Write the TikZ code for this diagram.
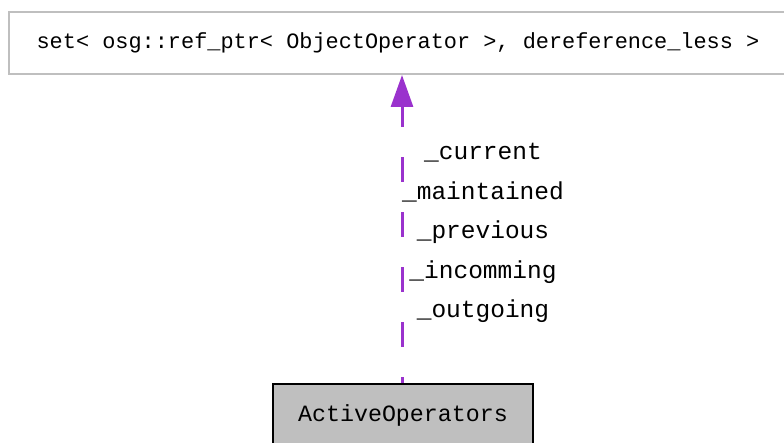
\documentclass[tikz,border=0pt]{standalone}
\usepackage{fontspec}
\setmonofont{Liberation Mono}
\usetikzlibrary{arrows.meta}
\definecolor{edgepurple}{HTML}{9A32CD}
\definecolor{boxgray}{HTML}{BFBFBF}

\begin{document}
\begin{tikzpicture}[
  x=1pt, y=-1pt,
  cls/.style   = {draw=boxgray, line width=2pt, minimum width=778pt, minimum height=62pt,
                  inner sep=0pt, font=\ttfamily\fontsize{21.9}{24}\selectfont},
  cur/.style   = {draw=black, fill=boxgray, line width=2pt, minimum width=260pt, minimum height=62pt,
                  inner sep=0pt, font=\ttfamily\fontsize{23.3}{26}\selectfont},
  assoc/.style = {-{Triangle[length=32pt, width=22pt]}, edgepurple, line width=3pt,
                  dash pattern=on 25pt off 30pt, dash phase=19pt},
  lbl/.style   = {align=center, inner sep=0pt, font=\ttfamily\fontsize{24.5}{39.5}\selectfont}
]
\clip (0,0) rectangle (784,443);

% ---------- classes ----------
\node[cls] (refset) at (398,43) {set< osg::ref\_ptr< ObjectOperator >, dereference\_less >};
\node[cur] (active) at (403,415) {ActiveOperators};

% ---------- usage edge ----------
\draw[assoc] (active.north -| 402,0) -- (refset.south -| 402,0);
\node[lbl] (members) at (483,233) {\_current\\\_maintained\\\_previous\\\_incomming\\\_outgoing};

\end{tikzpicture}
\end{document}
